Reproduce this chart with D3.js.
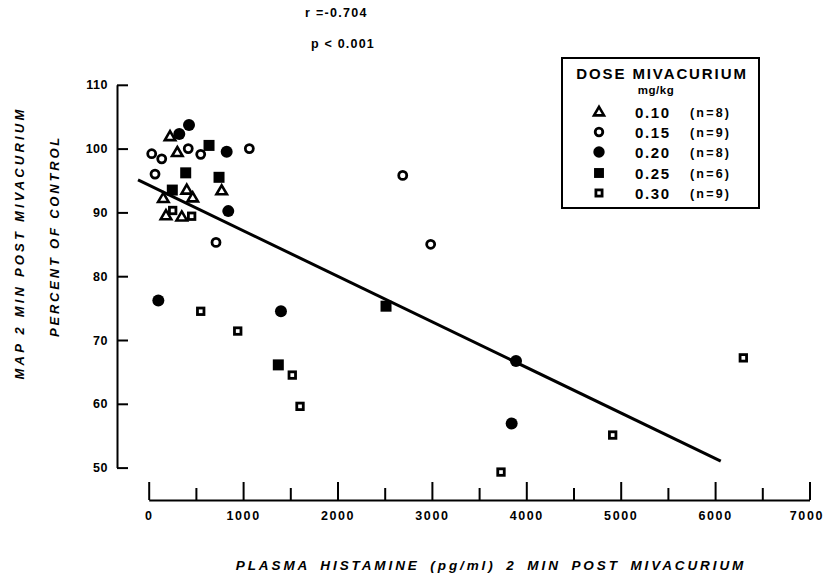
<!DOCTYPE html>
<html><head><meta charset="utf-8">
<script src="https://cdn.jsdelivr.net/npm/d3@7"></script>
<style>
body{margin:0;background:#fff}
text{font-family:"Liberation Sans",Arial,Helvetica,sans-serif;font-weight:bold;fill:#000}
</style>
</head><body><svg id="c" width="824" height="575"></svg>
<script>
// ---- data ----
const doseLabels = ["0.10", "0.15", "0.20", "0.25", "0.30"];
const countLabels = ["(n=8)", "(n=9)", "(n=8)", "(n=6)", "(n=9)"];
const symbolKinds = ["triangle", "openCircle", "filledCircle", "filledSquare", "openSquare"];
// [histamine pg/ml, MAP % of control]
const dose010 = [[226,101.9],[303,99.4],[773,93.4],[403,93.5],[466,92.3],[155,92.2],[183,89.5],[350,89.3]];
const dose015 = [[32,99.2],[138,98.4],[419,100.0],[551,99.1],[1066,100.0],[67,96.0],[713,85.3],[2691,95.8],[2987,85.0]];
const dose020 = [[427,103.7],[324,102.3],[826,99.5],[843,90.2],[102,76.2],[1401,74.5],[3891,66.7],[3845,56.9]];
const dose025 = [[639,100.5],[392,96.2],[745,95.5],[250,93.5],[1373,66.1],[2514,75.3]];
const dose030 = [[254,90.3],[455,89.4],[551,74.5],[943,71.4],[1521,64.5],[1603,59.6],[4915,55.1],[6299,67.2],[3732,49.3]];
const regressionX = [-113, 6060];
const regressionY = [95.1, 51.0];
const xMajorTicks = [0,1000,2000,3000,4000,5000,6000,7000];
const xMinorTicks = [500,1500,2500,3500,4500,5500,6500];
const yTicks = [50,60,70,80,90,100,110];
const statLines = ["r =-0.704", "p < 0.001"];

// ---- chart ----
const svg = d3.select("#c");
const x = d3.scaleLinear().domain([0,7000]).range([148.7, 809.5]);
const y = d3.scaleLinear().domain([50,110]).range([467.6, 84.8]);
const baseY = 500, yAxisX = 117;
const FONT = "'Liberation Sans',Arial,sans-serif";

// y axis
const yAx = svg.append("g").attr("transform",`translate(${yAxisX},0)`)
  .call(d3.axisLeft(y).tickValues(yTicks).tickSize(-11).tickSizeOuter(0).tickPadding(9).tickFormat(d3.format("d")));
yAx.selectAll("path.domain").attr("stroke","#000").attr("stroke-width",2);
yAx.selectAll(".tick line").attr("stroke","#000").attr("stroke-width",2);
yAx.selectAll("text").style("font-size","12.5px").style("letter-spacing","0.5px").style("font-family",FONT).style("font-weight","bold").attr("fill","#000");

// x axis: minor then major
const xMin = svg.append("g").attr("transform",`translate(0,${baseY})`)
  .call(d3.axisBottom(x).tickValues(xMinorTicks).tickSize(-12).tickSizeOuter(0).tickFormat(""));
xMin.select("path.domain").remove();
xMin.selectAll(".tick line").attr("stroke","#000").attr("stroke-width",2);
const xAx = svg.append("g").attr("transform",`translate(0,${baseY})`)
  .call(d3.axisBottom(x).tickValues(xMajorTicks).tickSize(-18).tickSizeOuter(0).tickPadding(11).tickFormat(d3.format("d")));
xAx.selectAll("path.domain").attr("stroke","#000").attr("stroke-width",2);
xAx.selectAll(".tick line").attr("stroke","#000").attr("stroke-width",2);
xAx.selectAll("text").style("font-size","12.5px").style("letter-spacing","1.6px").style("font-family",FONT).style("font-weight","bold").attr("fill","#000");
// keep the last label inside the frame
xAx.selectAll(".tick").filter(d=>d===7000).select("text").attr("text-anchor","end").attr("dx","14");

// regression line
svg.append("path")
  .attr("d", d3.line().x(d=>x(d[0])).y(d=>y(d[1]))(regressionX.map((v,i)=>[v,regressionY[i]])))
  .attr("stroke","#000").attr("stroke-width",3).attr("fill","none");

// marker drawer
function drawMarker(g, kind, cx, cy, scale){
  const s = scale || 1;
  if(kind==="triangle"){
    const h = 9*s, w = 10.5*s;
    g.append("path").attr("d",`M${cx},${cy-h*0.6}L${cx+w/2},${cy+h*0.4}L${cx-w/2},${cy+h*0.4}Z`)
      .attr("fill","#fff").attr("stroke","#000").attr("stroke-width",2.6).attr("stroke-linejoin","miter");
  } else if(kind==="openCircle"){
    g.append("circle").attr("cx",cx).attr("cy",cy).attr("r",4*s)
      .attr("fill","#fff").attr("stroke","#000").attr("stroke-width",2.8);
  } else if(kind==="filledCircle"){
    g.append("circle").attr("cx",cx).attr("cy",cy).attr("r",6*s).attr("fill","#000");
  } else if(kind==="filledSquare"){
    const a = 11*s;
    g.append("rect").attr("x",cx-a/2).attr("y",cy-a/2).attr("width",a).attr("height",a).attr("fill","#000");
  } else {
    const a = 6.5*s;
    g.append("rect").attr("x",cx-a/2).attr("y",cy-a/2).attr("width",a).attr("height",a)
      .attr("fill","#fff").attr("stroke","#000").attr("stroke-width",2.8);
  }
}

const allSeries = [dose010, dose015, dose020, dose025, dose030];
const pts = svg.append("g");
allSeries.forEach((ser,i)=>{
  ser.forEach(d=>drawMarker(pts, symbolKinds[i], x(d[0]), y(d[1]), 1));
});

// stats text
svg.append("text").attr("x",305).attr("y",17).style("font-size","12.5px").style("letter-spacing","1.3px").text(statLines[0]);
svg.append("text").attr("x",311).attr("y",48).style("font-size","12.5px").style("letter-spacing","1.2px").text(statLines[1]);

// legend
const lg = svg.append("g");
lg.append("rect").attr("x",562).attr("y",58).attr("width",197).attr("height",150)
  .attr("fill","#fff").attr("stroke","#000").attr("stroke-width",2);
lg.append("text").attr("x",662).attr("y",79).attr("text-anchor","middle").style("font-size","15px").style("letter-spacing","1.9px").text("DOSE MIVACURIUM");
lg.append("text").attr("x",656).attr("y",94).attr("text-anchor","middle").style("font-size","11.5px").style("letter-spacing","0.5px").text("mg/kg");
const rowY = [112,132,152,173,193];
doseLabels.forEach((lab,i)=>{
  drawMarker(lg, symbolKinds[i], 599, rowY[i], symbolKinds[i]==="filledSquare"?0.9:0.95);
  lg.append("text").attr("x",635).attr("y",rowY[i]+6).style("font-size","15px").style("letter-spacing","1.6px").text(lab);
  lg.append("text").attr("x",690).attr("y",rowY[i]+5).style("font-size","12.5px").style("letter-spacing","2.2px").text(countLabels[i]);
});

// axis titles
svg.append("text").attr("transform","translate(24,243) rotate(-90)").attr("text-anchor","middle")
  .style("font-size","13px").style("font-style","italic").style("letter-spacing","3.2px").text("MAP 2 MIN POST MIVACURIUM");
svg.append("text").attr("transform","translate(59,236) rotate(-90)").attr("text-anchor","middle")
  .style("font-size","13px").style("font-style","italic").style("letter-spacing","2.8px").text("PERCENT OF CONTROL");
svg.append("text").attr("x",491).attr("y",570).attr("text-anchor","middle")
  .style("font-size","13.5px").style("font-style","italic").style("letter-spacing","2.9px").style("word-spacing","4px")
  .text("PLASMA HISTAMINE (pg/ml)  2 MIN POST MIVACURIUM");
</script>
</body></html>
